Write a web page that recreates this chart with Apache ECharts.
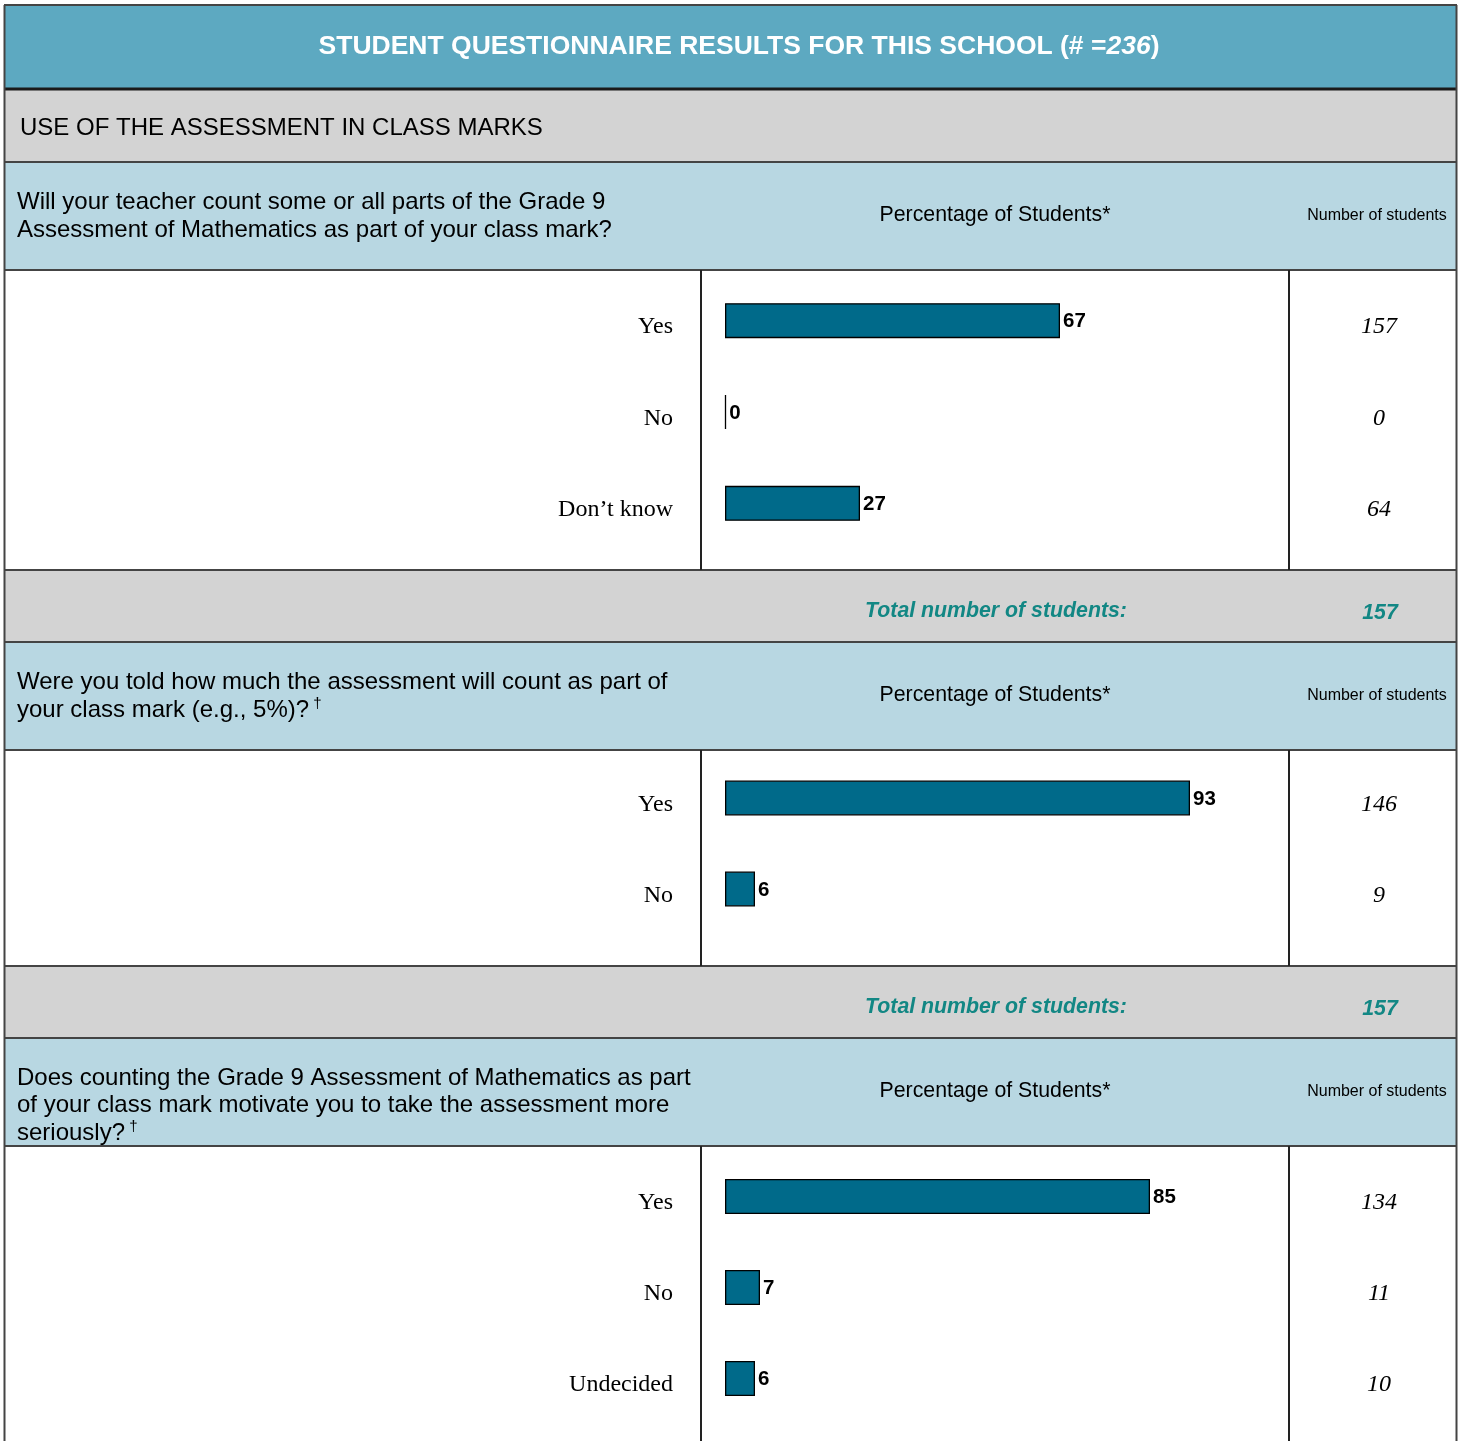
<!DOCTYPE html>
<html>
<head>
<meta charset="utf-8">
<script src="https://cdn.jsdelivr.net/npm/echarts@6/dist/echarts.min.js"></script>
<style>
html,body{margin:0;padding:0;background:#fff;}
#chart{width:1460px;height:1441px;}
</style>
</head>
<body>
<div id="chart"></div>
<script>
// ---- data ----
const titleText = 'STUDENT QUESTIONNAIRE RESULTS FOR THIS SCHOOL (# =';
const schoolN = 236;
const sectionTitle = 'USE OF THE ASSESSMENT IN CLASS MARKS';
const colPctTitle = 'Percentage of Students*';
const colNumTitle = 'Number of students';
const totalLabel = 'Total number of students:';

const q1Lines = ['Will your teacher count some or all parts of the Grade 9', 'Assessment of Mathematics as part of your class mark?'];
const q1Categories = ['Yes', 'No', 'Don\u2019t know'];
const q1Percent = [67, 0, 27];
const q1Counts = [157, 0, 64];
const q1Total = 157;

const q2Lines = ['Were you told how much the assessment will count as part of', 'your class mark (e.g., 5%)?'];
const q2Categories = ['Yes', 'No'];
const q2Percent = [93, 6];
const q2Counts = [146, 9];
const q2Total = 157;

const q3Lines = ['Does counting the Grade 9 Assessment of Mathematics as part', 'of your class mark motivate you to take the assessment more', 'seriously?'];
const q3Categories = ['Yes', 'No', 'Undecided'];
const q3Percent = [85, 7, 6];
const q3Counts = [134, 11, 10];

// ---- styling / layout ----
const SANS = '"Liberation Sans", Arial, sans-serif';
const SERIF = '"Liberation Serif", "Times New Roman", serif';
const C_TITLE = '#5DA9C1';
const C_GRAY = '#D3D3D3';
const C_QBAND = '#B8D7E2';
const C_BAR = '#006A8A';
const C_TEAL = '#128784';
const C_LINE = '#444';

const L = 4, R = 1457;
const bands = [
  {y0: 5, y1: 89, fill: C_TITLE},
  {y0: 89, y1: 162, fill: C_GRAY},
  {y0: 162, y1: 270, fill: C_QBAND},
  {y0: 270, y1: 570, fill: '#fff'},
  {y0: 570, y1: 642, fill: C_GRAY},
  {y0: 642, y1: 750, fill: C_QBAND},
  {y0: 750, y1: 966, fill: '#fff'},
  {y0: 966, y1: 1038, fill: C_GRAY},
  {y0: 1038, y1: 1146, fill: C_QBAND},
  {y0: 1146, y1: 1460, fill: '#fff'}
];
const dataAreas = [[270, 570], [750, 966], [1146, 1460]];

const graphics = [];
bands.forEach(b => {
  graphics.push({type: 'rect', z: -10, shape: {x: L, y: b.y0, width: R - L, height: b.y1 - b.y0}, style: {fill: b.fill}});
});
bands.forEach((b, i) => {
  graphics.push({type: 'line', z: 10, shape: {x1: L, y1: b.y0, x2: R, y2: b.y0},
    style: {stroke: i === 1 ? '#1a1a1a' : C_LINE, lineWidth: i === 1 ? 3 : 2}});
});
graphics.push({type: 'line', z: 10, shape: {x1: L + 0.5, y1: 5, x2: L + 0.5, y2: 1441}, style: {stroke: C_LINE, lineWidth: 2}});
graphics.push({type: 'line', z: 10, shape: {x1: R - 0.5, y1: 5, x2: R - 0.5, y2: 1441}, style: {stroke: C_LINE, lineWidth: 2}});
dataAreas.forEach(([a, b]) => {
  [701, 1289].forEach(x => {
    graphics.push({type: 'line', z: 10, shape: {x1: x, y1: a, x2: x, y2: b}, style: {stroke: '#222', lineWidth: 2}});
  });
});

// title
graphics.push({type: 'text', z: 20, x: 739, y: 47, style: {
  text: '{a|' + titleText + '}{b|' + schoolN + '}{a|)}',
  align: 'center', verticalAlign: 'middle',
  rich: {
    a: {fontFamily: SANS, fontSize: 26.5, fontWeight: 'bold', fill: '#fff'},
    b: {fontFamily: SANS, fontSize: 26.5, fontWeight: 'bold', fontStyle: 'italic', fill: '#fff'}
  }
}});
graphics.push({type: 'text', z: 20, x: 20, y: 128, style: {text: sectionTitle, fontFamily: SANS, fontSize: 24, fill: '#000', align: 'left', verticalAlign: 'middle'}});

function questionHeader(lines, yFirst, lh, dagger, colY) {
  lines.forEach((t, i) => {
    const last = i === lines.length - 1;
    graphics.push({type: 'text', z: 20, x: 17, y: yFirst + i * lh, style: {
      text: last && dagger ? '{a|' + t + '}{s| \u2020}' : '{a|' + t + '}',
      align: 'left', verticalAlign: 'middle',
      rich: {
        a: {fontFamily: SANS, fontSize: 24, fill: '#000'},
        s: {fontFamily: SANS, fontSize: 15, fill: '#000', padding: [0, 0, 12, 0]}
      }
    }});
  });
  graphics.push({type: 'text', z: 20, x: 995, y: colY, style: {text: colPctTitle, fontFamily: SANS, fontSize: 21.3, fill: '#000', align: 'center', verticalAlign: 'middle'}});
  graphics.push({type: 'text', z: 20, x: 1377, y: colY + 1, style: {text: colNumTitle, fontFamily: SANS, fontSize: 16, fill: '#000', align: 'center', verticalAlign: 'middle'}});
}
questionHeader(q1Lines, 202, 28, false, 215);
questionHeader(q2Lines, 682, 28, true, 695);
questionHeader(q3Lines, 1078, 27.5, true, 1091);

function totalRow(y, total) {
  graphics.push({type: 'text', z: 20, x: 996, y: y, style: {text: totalLabel, fontFamily: SANS, fontSize: 21.3, fontWeight: 'bold', fontStyle: 'italic', fill: C_TEAL, align: 'center', verticalAlign: 'middle'}});
  graphics.push({type: 'text', z: 20, x: 1380, y: y + 2, style: {text: String(total), fontFamily: SANS, fontSize: 21.3, fontWeight: 'bold', fontStyle: 'italic', fill: C_TEAL, align: 'center', verticalAlign: 'middle'}});
}
totalRow(611, q1Total);
totalRow(1007, q2Total);

// ---- grids / bars ----
const gridDefs = [
  {top: 275, height: 274, cats: q1Categories, pct: q1Percent, cnt: q1Counts},
  {top: 752.5, height: 182, cats: q2Categories, pct: q2Percent, cnt: q2Counts},
  {top: 1151, height: 273, cats: q3Categories, pct: q3Percent, cnt: q3Counts}
];
const grid = [], xAxis = [], yAxis = [], series = [];
gridDefs.forEach((g, i) => {
  grid.push({left: 725, width: 500, top: g.top, height: g.height, containLabel: false});
  xAxis.push({type: 'value', gridIndex: i, min: 0, max: 100, show: false});
  yAxis.push({type: 'category', gridIndex: i, data: g.cats, inverse: true, position: 'left',
    axisLine: {show: false}, axisTick: {show: false}, splitLine: {show: false},
    axisLabel: {margin: 52, formatter: v => '{a|' + v + '}',
      rich: {a: {fontFamily: SERIF, fontSize: 24, color: '#000', padding: [13, 0, 0, 0]}}}});
  yAxis.push({type: 'category', gridIndex: i, data: g.cnt.map(String), inverse: true, position: 'right',
    axisLine: {show: false}, axisTick: {show: false}, splitLine: {show: false},
    axisLabel: {margin: 154, align: 'center', formatter: v => '{a|' + v + '}',
      rich: {a: {fontFamily: SERIF, fontStyle: 'italic', fontSize: 24, color: '#000', padding: [13, 0, 0, 0]}}}});
  series.push({type: 'bar', xAxisIndex: i, yAxisIndex: i * 2, data: g.pct, barWidth: 35, barMinHeight: 1,
    itemStyle: {color: C_BAR, borderColor: '#000', borderWidth: 1.3},
    label: {show: true, position: 'right', distance: 3, fontFamily: SANS, fontSize: 20.5, fontWeight: 'bold', color: '#000', offset: [0, 1]},
    silent: true, animation: false});
});

const chart = echarts.init(document.getElementById('chart'), null, {renderer: 'canvas'});
chart.setOption({
  animation: false,
  backgroundColor: '#fff',
  grid, xAxis, yAxis, series,
  graphic: {elements: graphics}
});
</script>
</body>
</html>
